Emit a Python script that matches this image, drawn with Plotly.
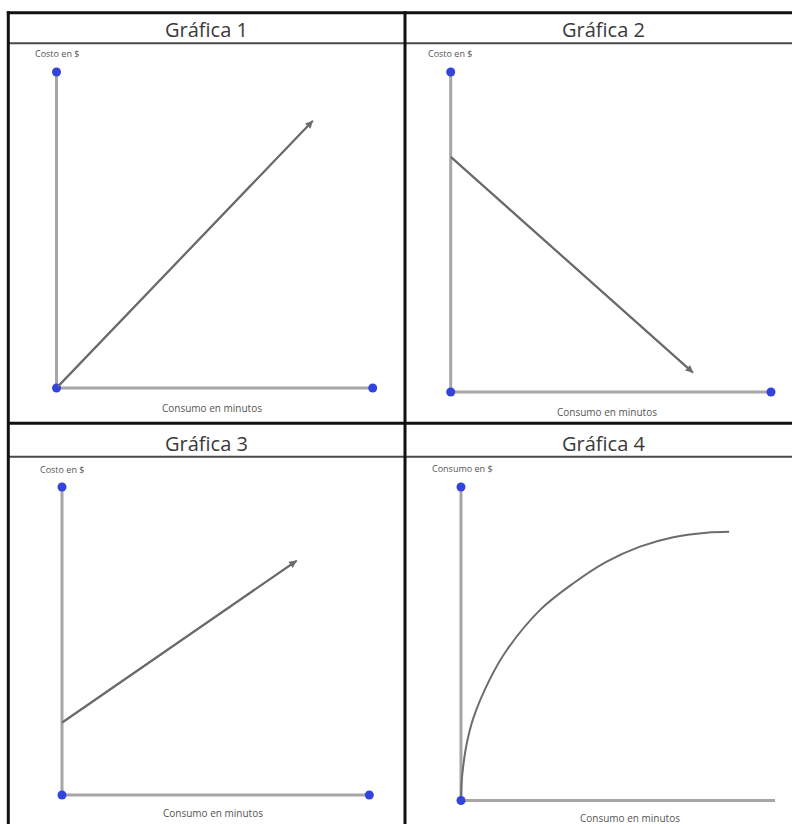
import plotly.graph_objects as go

W, H = 792, 824

# ---- data (axis units 0..10 on both axes of every panel) ----
titles = ["Gráfica 1", "Gráfica 2", "Gráfica 3", "Gráfica 4"]
y_labels = ["Costo en $", "Costo en $", "Costo en $", "Consumo en $"]
x_label = "Consumo en minutos"

# straight cost lines: (x_start, y_start) -> (x_end, y_end)
line1_x = [0.0, 8.11]
line1_y = [0.0, 8.46]
line2_x = [0.0, 7.57]
line2_y = [7.35, 0.60]
line3_x = [0.0, 7.64]
line3_y = [2.35, 7.61]

# saturating curve of panel 4
curve4_x = [0.0, 0.02, 0.07, 0.18, 0.39, 0.92, 1.46, 2.52, 3.58, 4.64, 5.70, 6.76, 7.82, 8.54]
curve4_y = [0.0, 0.58, 1.09, 1.80, 2.62, 3.87, 4.80, 6.08, 6.93, 7.62, 8.10, 8.40, 8.54, 8.57]

# ---- layout geometry (pixels) ----
# plot box of each panel: (x_left, x_right, y_bottom, y_top) = where 0 and 10 fall
boxes = [
    (56.5, 372.7, 388.0, 72.0),
    (450.7, 771.0, 392.0, 72.0),
    (62.0, 369.3, 795.0, 487.0),
    (461.0, 775.0, 800.5, 487.0),
]
title_pos = [(206, 29), (603, 29), (206, 443), (603, 443)]
ylab_pos = [(57, 53), (450, 53), (62, 469), (463, 468)]
xlab_pos = [(212, 408), (607, 412), (213, 813), (630, 818)]
end_dots = [True, True, True, False]

AXIS_C = "#a6a6a6"
LINE_C = "#6c6c6c"
DOT_C = "#3344dd"
PAD = 0.3  # extra axis range so the axis strokes are not clipped


def px(x):
    return x / W


def py(y):
    return 1 - y / H


fig = go.Figure()
layout = dict(
    width=W, height=H,
    margin=dict(l=0, r=0, t=0, b=0),
    paper_bgcolor="white", plot_bgcolor="white",
    showlegend=False,
)

curves = [(line1_x, line1_y), (line2_x, line2_y), (line3_x, line3_y), (curve4_x, curve4_y)]
annotations = []

for i, (xl, xr, yb, yt) in enumerate(boxes):
    n = "" if i == 0 else str(i + 1)
    xa, ya = "x" + n, "y" + n
    sx = (xr - xl) / 10.0
    sy = (yb - yt) / 10.0
    layout["xaxis" + n] = dict(domain=[px(xl - PAD * sx), px(xr + PAD * sx)],
                               range=[-PAD, 10 + PAD], visible=False,
                               anchor=ya, fixedrange=True)
    layout["yaxis" + n] = dict(domain=[py(yb + PAD * sy), py(yt - PAD * sy)],
                               range=[-PAD, 10 + PAD], visible=False,
                               anchor=xa, fixedrange=True)

    # axes
    fig.add_trace(go.Scatter(x=[0, 0], y=[0, 10], xaxis=xa, yaxis=ya, mode="lines",
                             line=dict(color=AXIS_C, width=3), hoverinfo="skip"))
    fig.add_trace(go.Scatter(x=[0, 10], y=[0, 0], xaxis=xa, yaxis=ya, mode="lines",
                             line=dict(color=AXIS_C, width=3), hoverinfo="skip"))

    cx, cy = curves[i]
    fig.add_trace(go.Scatter(x=cx, y=cy, xaxis=xa, yaxis=ya, mode="lines",
                             line=dict(color=LINE_C, width=2,
                                       shape="spline" if i == 3 else "linear"),
                             hoverinfo="skip"))
    if i < 3:
        annotations.append(dict(x=cx[-1], y=cy[-1], ax=cx[0], ay=cy[0],
                                xref=xa, yref=ya, axref=xa, ayref=ya,
                                showarrow=True, arrowhead=2, arrowsize=0.75,
                                arrowwidth=2, arrowcolor=LINE_C, text=""))

    # blue end points of the axes
    dx = [0, 0] + ([10] if end_dots[i] else [])
    dy = [0, 10] + ([0] if end_dots[i] else [])
    fig.add_trace(go.Scatter(x=dx, y=dy, xaxis=xa, yaxis=ya, mode="markers",
                             marker=dict(color=DOT_C, size=9, line=dict(width=0)),
                             cliponaxis=False, hoverinfo="skip"))

    tx, ty = title_pos[i]
    annotations.append(dict(x=px(tx), y=py(ty), xref="paper", yref="paper",
                            text=titles[i], showarrow=False,
                            font=dict(family="Open Sans", size=20, color="#3a3a3a"),
                            xanchor="center", yanchor="middle"))
    lx, ly = ylab_pos[i]
    annotations.append(dict(x=px(lx), y=py(ly), xref="paper", yref="paper",
                            text=y_labels[i], showarrow=False,
                            font=dict(family="Open Sans", size=9, color="#555555"),
                            xanchor="center", yanchor="middle"))
    bx, by = xlab_pos[i]
    annotations.append(dict(x=px(bx), y=py(by), xref="paper", yref="paper",
                            text=x_label, showarrow=False,
                            font=dict(family="Open Sans", size=10, color="#555555"),
                            xanchor="center", yanchor="middle"))

# table grid
shapes = []


def hline(y, x0, x1, w, c):
    shapes.append(dict(type="line", xref="paper", yref="paper",
                       x0=px(x0), x1=px(x1), y0=py(y), y1=py(y),
                       line=dict(color=c, width=w)))


def vline(x, y0, y1, w, c):
    shapes.append(dict(type="line", xref="paper", yref="paper",
                       x0=px(x), x1=px(x), y0=py(y0), y1=py(y1),
                       line=dict(color=c, width=w)))


hline(12.7, 6.8, W + 5, 3, "#111111")
hline(43.3, 8, W + 5, 2, "#4a4a4a")
hline(423.3, 8, W + 5, 3, "#111111")
hline(456.7, 8, W + 5, 2, "#4a4a4a")
vline(8.3, 11.2, H + 5, 3, "#111111")
vline(405, 11.2, H + 5, 3, "#111111")

layout["annotations"] = annotations
layout["shapes"] = shapes
fig.update_layout(**layout)

fig.write_html("out.html")
